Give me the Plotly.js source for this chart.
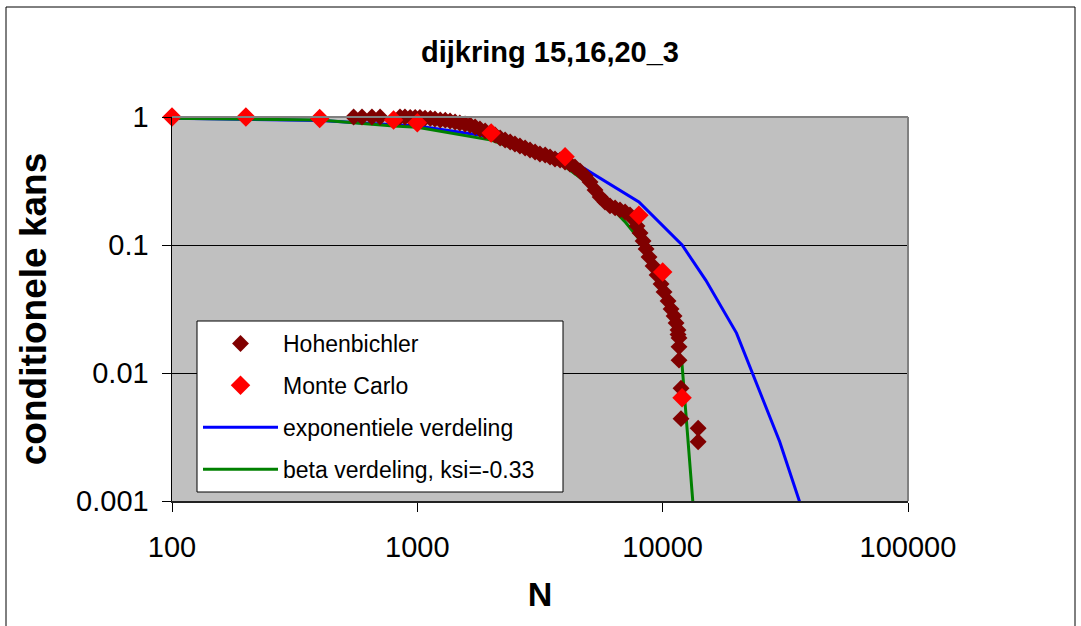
<!DOCTYPE html>
<html>
<head>
<meta charset="utf-8">
<script src="https://cdn.plot.ly/plotly-3.0.1.min.js"></script>
<style>
html,body{margin:0;padding:0;background:#fff;}
#chart{width:1081px;height:626px;}
</style>
</head>
<body>
<div id="chart"></div>
<script>
// Hohenbichler (dense series)
const nHohen = [550,595,653,705,850,890,935,980,1025,1075,1130,1180,1240,1300,1360,1425,1490,1565,1640,1720,1800,1890,1980,2075,2175,2280,2390,2500,2620,2750,2880,3020,3160,3320,3475,3640,3820,4000,4190,4390,4600,4830,5060,5300,5560,5820,6100,6400,6700,7030,7360,7650,7860,8090,8320,8560,8800,9140,9490,9850,10130,10520,10820,11130,11340,11550,11550,11660,11660,11660,11880,11880,13950,13950];
const pHohen = [1.0,1.0,1.0,1.0,1.0,1.0,0.99,0.99,0.99,0.98,0.975,0.965,0.947,0.945,0.93,0.914,0.898,0.882,0.866,0.835,0.806,0.777,0.75,0.723,0.685,0.661,0.638,0.615,0.593,0.573,0.552,0.533,0.514,0.505,0.487,0.47,0.461,0.445,0.429,0.407,0.379,0.346,0.311,0.269,0.237,0.217,0.202,0.195,0.188,0.181,0.1715,0.157,0.141,0.124,0.1075,0.0931,0.0806,0.0686,0.0583,0.0496,0.043,0.0365,0.0316,0.0279,0.0246,0.0217,0.0200,0.0188,0.016,0.0126,0.0076,0.0044,0.0037,0.0029];

// Monte Carlo
const nMonteCarlo = [100,200,400,800,1000,2000,4000,8000,10000,12000];
const pMonteCarlo = [1.0,1.0,0.975,0.947,0.90,0.75,0.49,0.171,0.0616,0.0064];

// exponentiele verdeling
const nExp = [100,200,400,800,1000,2000,4000,8000,12000,15000,20000,30000,40000];
const pExp = [0.977,0.962,0.94,0.87,0.85,0.70,0.49,0.217,0.10,0.053,0.0205,0.0029,0.00055];

// beta verdeling, ksi=-0.33
const nBeta = [100,200,400,800,1000,2000,3000,4000,5000,6000,7000,8000,9000,10000,11000,12000,12500,13000,13500];
const pBeta = [0.977,0.959,0.947,0.85,0.831,0.66,0.50,0.41,0.30,0.21,0.153,0.112,0.076,0.046,0.0245,0.0115,0.0042,0.00153,0.00065];

const xTicks = [100,1000,10000,100000];
const xTickText = ['100','1000','10000','100000'];
const yTicks = [0.001,0.01,0.1,1];
const yTickText = ['0.001','0.01','0.1','1'];

const FONT = 'Arial, "Liberation Sans", sans-serif';

const traces = [
  {x:nExp, y:pExp, type:'scatter', mode:'lines', name:'exponentiele verdeling',
   line:{color:'#0000FF', width:3}, legendgroup:'c', legendrank:3},
  {x:nBeta, y:pBeta, type:'scatter', mode:'lines', name:'beta verdeling, ksi=-0.33',
   line:{color:'#008000', width:3}, legendgroup:'d', legendrank:4},
  {x:nHohen, y:pHohen, type:'scatter', mode:'markers', name:'Hohenbichler',
   marker:{symbol:'diamond', color:'#800000', size:13, line:{width:0}}, cliponaxis:false,
   legendgroup:'a', legendrank:1},
  {x:nMonteCarlo, y:pMonteCarlo, type:'scatter', mode:'markers', name:'Monte Carlo',
   marker:{symbol:'diamond', color:'#FF0000', size:15, line:{width:0}}, cliponaxis:false,
   legendgroup:'b', legendrank:2}
];

const L=172, R=173, T=117, B=125;
const pw = 1081-L-R, ph = 626-T-B;
function px2x(p){return (p-L)/pw;}
function py2y(p){return (626-B-p)/ph;}

const layout = {
  width:1081, height:626,
  margin:{l:L, r:R, t:T, b:B, pad:0},
  paper_bgcolor:'#FFFFFF',
  plot_bgcolor:'#C0C0C0',
  font:{family:FONT, color:'#000'},
  title:{text:'<b>dijkring 15,16,20_3</b>', font:{family:FONT, size:29, color:'#000'},
    x:550/1081, xanchor:'center', y:1-52/626, yanchor:'middle', xref:'container', yref:'container'},
  xaxis:{type:'log', range:[2,5], tickvals:xTicks, ticktext:xTickText,
    ticks:'outside', ticklen:9, tickwidth:1, tickcolor:'#000',
    showline:true, linecolor:'#222', linewidth:2, showgrid:false, zeroline:false,
    tickfont:{family:FONT, size:29, color:'#000'}, ticklabelstandoff:10,
    title:{text:'<b>N</b>', font:{family:FONT, size:34, color:'#000'}, standoff:20},
    automargin:false},
  yaxis:{type:'log', range:[-3,0], tickvals:yTicks, ticktext:yTickText,
    ticks:'outside', ticklen:9, tickwidth:1, tickcolor:'#000',
    showline:true, linecolor:'#000', linewidth:1.5, showgrid:true, gridcolor:'#000', gridwidth:1,
    zeroline:false,
    tickfont:{family:FONT, size:29, color:'#000'}, ticklabelstandoff:7,
    title:{text:'<b>conditionele kans</b>', font:{family:FONT, size:37, color:'#000'}, standoff:18},
    automargin:false},
  legend:{x:px2x(198), y:py2y(322), xanchor:'left', yanchor:'top',
    bgcolor:'rgba(0,0,0,0)', borderwidth:0,
    font:{family:FONT, size:23, color:'#000'}, traceorder:'grouped', tracegroupgap:9,
    itemwidth:75},
  showlegend:true,
  shapes:[
    {type:'line', xref:'paper', yref:'paper', x0:0, x1:1, y0:1, y1:1, line:{color:'#808080', width:2}, layer:'above'},
    {type:'line', xref:'paper', yref:'paper', x0:1, x1:1, y0:0, y1:1, line:{color:'#808080', width:2}, layer:'above'},
    {type:'rect', xref:'paper', yref:'paper', x0:px2x(197), x1:px2x(563), y0:py2y(492), y1:py2y(321),
     line:{color:'#000', width:1}, fillcolor:'#FFFFFF', layer:'above'},
    {type:'rect', xref:'paper', yref:'paper', x0:px2x(6), x1:px2x(1075), y0:py2y(640), y1:py2y(7),
     line:{color:'#000', width:1}, fillcolor:'rgba(0,0,0,0)', layer:'below'}
  ]
};

Plotly.newPlot('chart', traces, layout, {staticPlot:true, displayModeBar:false});
</script>
</body>
</html>
